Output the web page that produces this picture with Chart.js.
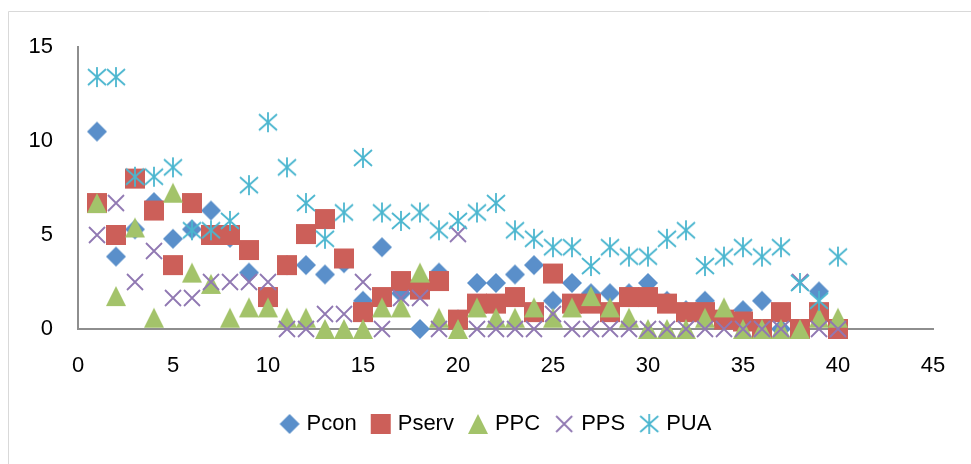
<!DOCTYPE html>
<html lang="en">
<head>
  <meta charset="UTF-8">
  <title>Pcon / Pserv / PPC / PPS / PUA</title>
  <script src="https://cdn.jsdelivr.net/npm/chart.js"></script>
  <style>
    body {
      margin: 0;
      padding: 0;
      background-color: #fff;
    }

    #chart-container {
      width: 971px;
      height: 464px;
    }
  </style>
</head>
<body>
  <div id="chart-container">
    <canvas id="scatterChart"></canvas>
  </div>

  <script>
    // Observation index (x axis)
    const obs = [1, 2, 3, 4, 5, 6, 7, 8, 9, 10, 11, 12, 13, 14, 15, 16, 17, 18, 19, 20,
                 21, 22, 23, 24, 25, 26, 27, 28, 29, 30, 31, 32, 33, 34, 35, 36, 37, 38, 39, 40];

    // Series values
    const pcon = [10.5, 3.85, 5.3, 6.75, 4.8, 5.3, 6.3, 4.85, 3.0, 1.7,
                  3.4, 3.4, 2.9, 3.5, 1.5, 4.35, 1.9, 0.0, 3.0, 0.5,
                  2.45, 2.45, 2.9, 3.4, 1.5, 2.45, 1.9, 1.9, 1.9, 2.45,
                  1.5, 1.0, 1.5, 0.5, 1.0, 1.5, 0.0, 0.0, 2.0, 0.0];
    const pserv = [6.7, 5.0, 8.0, 6.3, 3.4, 6.7, 5.0, 5.0, 4.2, 1.7,
                   3.4, 5.05, 5.85, 3.75, 0.9, 1.7, 2.55, 2.1, 2.55, 0.5,
                   1.35, 1.35, 1.7, 0.9, 2.95, 1.35, 1.35, 0.9, 1.7, 1.7,
                   1.35, 0.9, 0.9, 0.5, 0.4, 0.0, 0.9, 0.0, 0.9, 0.0];
    const ppc = [6.7, 1.75, 5.4, 0.6, 7.25, 3.0, 2.4, 0.6, 1.15, 1.15,
                 0.6, 0.6, 0.0, 0.0, 0.0, 1.15, 1.15, 3.0, 0.6, 0.0,
                 1.15, 0.6, 0.6, 1.15, 0.6, 1.15, 1.75, 1.15, 0.6, 0.0,
                 0.0, 0.0, 0.6, 1.15, 0.0, 0.0, 0.0, 0.0, 0.6, 0.6];
    const pps = [5.0, 6.7, 2.5, 4.15, 1.65, 1.65, 2.5, 2.5, 2.5, 2.5,
                 0.0, 0.0, 0.8, 0.8, 2.5, 0.0, 1.65, 1.65, 0.0, 5.05,
                 0.0, 0.0, 0.0, 0.0, 0.8, 0.0, 0.0, 0.0, 0.0, 0.0,
                 0.0, 0.0, 0.0, 0.0, 0.0, 0.0, 0.0, 2.5, 0.0, 0.0];
    const pua = [13.4, 13.4, 8.1, 8.1, 8.6, 5.25, 5.25, 5.75, 7.65, 11.0,
                 8.6, 6.7, 4.8, 6.2, 9.1, 6.2, 5.75, 6.2, 5.25, 5.75,
                 6.2, 6.7, 5.25, 4.8, 4.35, 4.35, 3.35, 4.35, 3.85, 3.85,
                 4.8, 5.25, 3.35, 3.85, 4.35, 3.85, 4.35, 2.45, 1.5, 3.85];

    const seriesNames = ['Pcon', 'Pserv', 'PPC', 'PPS', 'PUA'];
    const xTicks = [0, 5, 10, 15, 20, 25, 30, 35, 40, 45];
    const yTicks = [0, 5, 10, 15];

    // Excel-like marker glyphs drawn on small canvases
    function marker(kind, color) {
      const c = document.createElement('canvas');
      c.width = 22;
      c.height = 22;
      const g = c.getContext('2d');
      g.fillStyle = color;
      g.strokeStyle = color;
      g.lineWidth = 1.8;
      g.beginPath();
      if (kind === 'diamond') {
        g.moveTo(11, 1); g.lineTo(21, 11); g.lineTo(11, 21); g.lineTo(1, 11);
        g.closePath(); g.fill();
      } else if (kind === 'square') {
        g.rect(1, 1, 20, 20); g.fill();
      } else if (kind === 'triangle') {
        g.moveTo(11, 1); g.lineTo(21, 21); g.lineTo(1, 21);
        g.closePath(); g.fill();
      } else if (kind === 'x') {
        g.moveTo(3, 3); g.lineTo(19, 19); g.moveTo(19, 3); g.lineTo(3, 19);
        g.stroke();
      } else {
        g.moveTo(2, 3); g.lineTo(20, 19); g.moveTo(20, 3); g.lineTo(2, 19);
        g.moveTo(11, 1); g.lineTo(11, 21);
        g.stroke();
      }
      return c;
    }

    const styles = [
      marker('diamond', '#5A8FCA'),
      marker('square', '#CC5F59'),
      marker('triangle', '#A3C36A'),
      marker('x', '#9078B2'),
      marker('star', '#4BB6CF')
    ];

    function points(values) {
      return values.map((v, i) => ({ x: obs[i], y: v }));
    }

    // white background and the chart-area frame
    const framePlugin = {
      id: 'frame',
      afterLayout(chart) {
        // legend sits a bit right of centre in the original
        chart.legend.left += 31;
        chart.legend.right += 31;
      },
      beforeDraw(chart) {
        const ctx = chart.ctx;
        ctx.save();
        ctx.fillStyle = '#fff';
        ctx.fillRect(0, 0, chart.width, chart.height);
        ctx.strokeStyle = '#D9D9D9';
        ctx.lineWidth = 1;
        ctx.beginPath();
        ctx.moveTo(8.5, chart.height);
        ctx.lineTo(8.5, 11.5);
        ctx.lineTo(chart.width, 11.5);
        ctx.stroke();
        ctx.restore();
      }
    };

    const allSeries = [pcon, pserv, ppc, pps, pua];

    const ctx = document.getElementById('scatterChart').getContext('2d');
    const chart = new Chart(ctx, {
      type: 'scatter',
      data: {
        datasets: allSeries.map((vals, i) => ({
          label: seriesNames[i],
          data: points(vals),
          pointStyle: styles[i],
          order: 5 - i,
          clip: false
        }))
      },
      options: {
        responsive: true,
        maintainAspectRatio: false,
        animation: false,
        events: [],
        layout: {
          padding: { top: 47, left: 0, right: 38, bottom: 19 }
        },
        scales: {
          x: {
            type: 'linear',
            min: 0,
            max: 45,
            afterBuildTicks: (axis) => { axis.ticks = xTicks.map(v => ({ value: v })); },
            afterFit: (axis) => { axis.height = 66; },
            grid: { display: false },
            border: { display: true, color: '#8E8E8E', width: 2 },
            ticks: {
              padding: 16,
              color: '#000',
              font: { family: 'Liberation Sans, Arial, sans-serif', size: 22 }
            }
          },
          y: {
            min: 0,
            max: 15,
            afterBuildTicks: (axis) => { axis.ticks = yTicks.map(v => ({ value: v })); },
            afterFit: (axis) => { axis.width = 78; },
            grid: { display: false },
            border: { display: true, color: '#8E8E8E', width: 2 },
            ticks: {
              padding: 17,
              color: '#000',
              font: { family: 'Liberation Sans, Arial, sans-serif', size: 22 }
            }
          }
        },
        plugins: {
          tooltip: { enabled: false },
          legend: {
            position: 'bottom',
            labels: {
              usePointStyle: true,
              boxWidth: 12,
              padding: 18,
              color: '#000',
              sort: (a, b) => a.datasetIndex - b.datasetIndex,
              font: { family: 'Liberation Sans, Arial, sans-serif', size: 22 }
            }
          }
        }
      },
      plugins: [framePlugin]
    });
  </script>
</body>
</html>
